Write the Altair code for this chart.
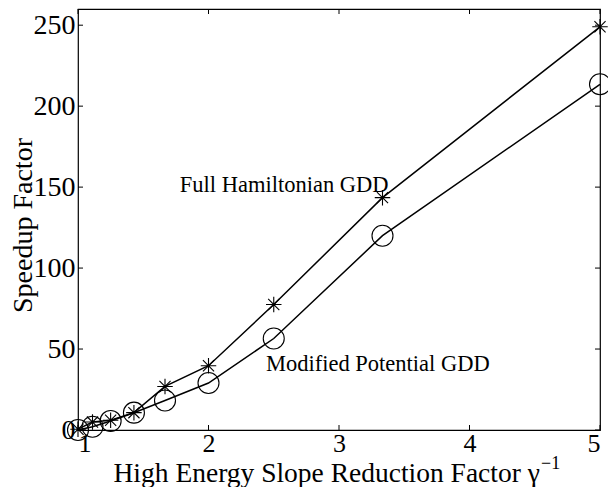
import altair as alt
import pandas as pd

# ---- data ----
x_vals = [1.0, 1.1111, 1.25, 1.4286, 1.6667, 2.0, 2.5, 3.3333, 5.0]
full_ham = [0.5, 4.9, 6.0, 10.7, 26.9, 39.7, 77.5, 143.5, 249.0]
mod_pot = [0.0, 2.0, 5.6, 10.7, 18.2, 29.0, 56.5, 120.0, 213.5]

x_ticks = [1, 2, 3, 4, 5]
y_ticks = [0, 50, 100, 150, 200, 250]

ann_text = ["Full Hamiltonian GDD", "Modified Potential GDD"]
ann_x = [1.78, 2.44]
ann_y = [151, 41]

FONT = "Liberation Serif"
W, H = 522, 421

xs = alt.Scale(domain=[1, 5], nice=False, zero=False)
ys = alt.Scale(domain=[0, 260], nice=False, zero=False)

df_full = pd.DataFrame({"x": x_vals, "y": full_ham})
df_mod = pd.DataFrame({"x": x_vals, "y": mod_pot})

xaxis = alt.Axis(values=x_ticks, ticks=False, domain=False, grid=False, format="d",
                 labelFontSize=26, labelPadding=0, labelFont=FONT, labelColor="black",
                 title="High Energy Slope Reduction Factor γ", titleFont=FONT,
                 titleFontSize=27.5, titleFontWeight="normal", titleColor="black",
                 titleAnchor="start", titleAlign="left", titleBaseline="alphabetic",
                 titleX=35, titleY=51)
yaxis = alt.Axis(values=y_ticks, ticks=False, domain=False, grid=False, format="d",
                 labelFontSize=28, labelPadding=3, labelFont=FONT, labelColor="black",
                 title="Speedup Factor", titleFont=FONT, titleFontSize=28,
                 titleFontWeight="normal", titleColor="black",
                 titleAngle=270, titleAlign="center", titleBaseline="alphabetic",
                 titleX=-47, titleY=216)


def X(f):
    return alt.X(f, scale=xs, axis=xaxis)


def Y(f):
    return alt.Y(f, scale=ys, axis=yaxis)


line_full = alt.Chart(df_full).mark_line(color="black", strokeWidth=1.5).encode(
    x=X("x:Q"), y=Y("y:Q"))
star = "M-1,0L1,0M0,-1L0,1M-0.72,-0.72L0.72,0.72M-0.72,0.72L0.72,-0.72"
pts_full = alt.Chart(df_full).mark_point(shape=star, size=240, filled=False, opacity=1,
                                          color="black", strokeWidth=1.1).encode(
    x=X("x:Q"), y=Y("y:Q"))
line_mod = alt.Chart(df_mod).mark_line(color="black", strokeWidth=1.5).encode(
    x=X("x:Q"), y=Y("y:Q"))
pts_mod = alt.Chart(df_mod).mark_point(shape="circle", size=441, filled=False, opacity=1,
                                        color="black", strokeWidth=1.1).encode(
    x=X("x:Q"), y=Y("y:Q"))

ann = alt.Chart(pd.DataFrame({"t": ann_text, "x": ann_x, "y": ann_y})).mark_text(
    align="left", baseline="middle", font=FONT, fontSize=22.5, color="black").encode(
    x=X("x:Q"), y=Y("y:Q"), text="t:N")

sup = alt.Chart(pd.DataFrame({"t": ["−1"]})).mark_text(
    align="left", baseline="alphabetic", font=FONT, fontSize=18, color="black").encode(
    x=alt.value(463), y=alt.value(H + 39), text="t:N")

# inward ticks on all four sides
ydf = pd.DataFrame({"x": [1] * len(y_ticks), "y": y_ticks})
xdf = pd.DataFrame({"x": x_ticks, "y": [0] * len(x_ticks)})
tl = alt.Chart(ydf).mark_rule(color="black", strokeWidth=1).encode(
    y=Y("y:Q"), x=alt.value(0), x2=alt.value(5))
tr = alt.Chart(ydf).mark_rule(color="black", strokeWidth=1).encode(
    y=Y("y:Q"), x=alt.value(W), x2=alt.value(W - 5))
tb = alt.Chart(xdf).mark_rule(color="black", strokeWidth=1).encode(
    x=X("x:Q"), y=alt.value(H), y2=alt.value(H - 5))
tt = alt.Chart(xdf).mark_rule(color="black", strokeWidth=1).encode(
    x=X("x:Q"), y=alt.value(0), y2=alt.value(5))

chart = alt.layer(line_full, line_mod, pts_full, pts_mod, ann, sup, tl, tr, tb, tt).properties(
    width=W, height=H,
    background="white",
    padding={"left": 70, "top": 1, "right": 8, "bottom": 57},
    autosize=alt.AutoSizeParams(type="none"),
).configure_view(stroke="black", strokeWidth=1.2)

chart.save("out.html", embed_options={"renderer": "svg", "actions": False})
